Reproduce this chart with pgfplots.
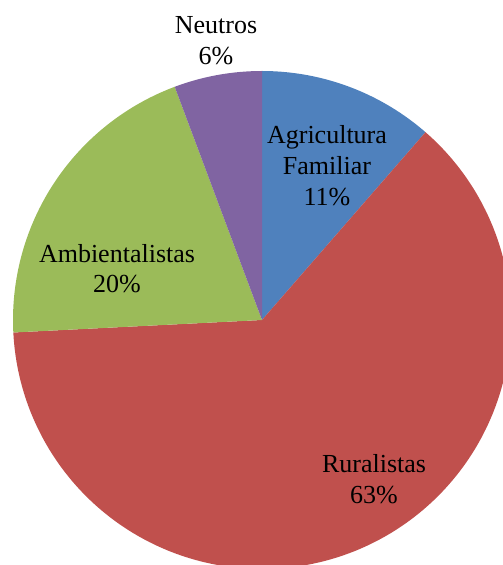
\documentclass[border=0pt]{standalone}
\usepackage{pgfplots}
\pgfplotsset{compat=1.18}
\usepackage{fontspec}
\setmainfont{Liberation Serif}
\definecolor{cBlue}{HTML}{4F81BD}
\definecolor{cRed}{HTML}{C0504D}
\definecolor{cGreen}{HTML}{9BBB59}
\definecolor{cPurple}{HTML}{8064A2}
% shares (percent), clockwise from 12 o'clock
\def\pAgr{11.4}
\def\pRur{62.8}
\def\pAmb{20.1}
\def\pNeu{5.7}
\pgfmathsetmacro{\aA}{90}
\pgfmathsetmacro{\aB}{\aA-3.6*\pAgr}
\pgfmathsetmacro{\aC}{\aB-3.6*\pRur}
\pgfmathsetmacro{\aD}{\aC-3.6*\pAmb}
\pgfmathsetmacro{\aE}{\aD-3.6*\pNeu}
\def\R{249}
\newcommand{\bigfont}{\fontsize{26bp}{30bp}\selectfont}
\tikzset{lbl/.style={font=\bigfont, anchor=base, inner sep=0pt}}
\begin{document}
\bigfont
\begin{tikzpicture}[font=\bigfont]
\begin{axis}[
  hide axis, scale only axis,
  width=503bp, height=565bp,
  xmin=-262, xmax=241, ymin=-245, ymax=320,
  clip=true,
]
\path (rel axis cs:0,0) rectangle (rel axis cs:1,1);
\addplot[fill=cBlue, draw=none, domain=\aB:\aA, samples=80] ({\R*cos(x)},{\R*sin(x)}) -- (axis cs:0,0) -- cycle;
\addplot[fill=cRed, draw=none, domain=\aC:\aB, samples=200] ({\R*cos(x)},{\R*sin(x)}) -- (axis cs:0,0) -- cycle;
\addplot[fill=cGreen, draw=none, domain=\aD:\aC, samples=100] ({\R*cos(x)},{\R*sin(x)}) -- (axis cs:0,0) -- cycle;
\addplot[fill=cPurple, draw=none, domain=\aE:\aD, samples=60] ({\R*cos(x)},{\R*sin(x)}) -- (axis cs:0,0) -- cycle;
\node[lbl] at (axis cs:-46,286) {Neutros};
\node[lbl] at (axis cs:-46,255) {6\%};
\node[lbl] at (axis cs:65,176) {Agricultura};
\node[lbl] at (axis cs:65,145) {Familiar};
\node[lbl] at (axis cs:65,114) {11\%};
\node[lbl] at (axis cs:-145,57) {Ambientalistas};
\node[lbl] at (axis cs:-145,27) {20\%};
\node[lbl] at (axis cs:112,-153) {Ruralistas};
\node[lbl] at (axis cs:112,-184) {63\%};
\end{axis}
\end{tikzpicture}
\end{document}
